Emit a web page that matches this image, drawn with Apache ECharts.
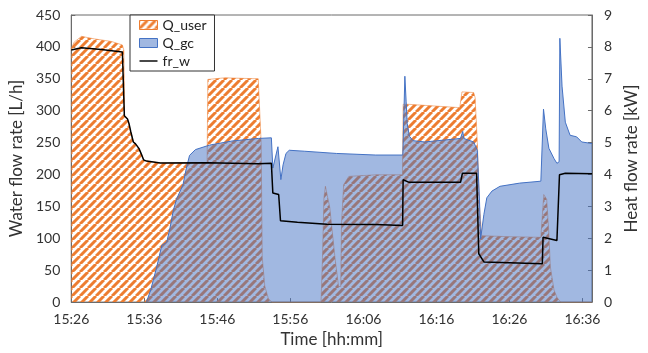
<!DOCTYPE html>
<html>
<head>
<meta charset="utf-8">
<script src="https://cdn.jsdelivr.net/npm/echarts@6/dist/echarts.min.js"></script>
<style>
  html, body { margin: 0; padding: 0; background: #fff; }
  #chart { width: 648px; height: 353px; }
</style>
</head>
<body>
<div id="chart"></div>
<script>
// time in minutes after 15:26
const timeLabels = ['15:26', '15:36', '15:46', '15:56', '16:06', '16:16', '16:26', '16:36'];

// Q_user heat flow [kW]
const qUserT = [0, 0.4, 1.4, 3.2, 5.5, 7.0, 7.2, 7.3, 7.7, 8.15, 8.5, 8.8, 9.26, 9.5, 9.9, 10.3, 12.2, 18.6,
  18.7, 21, 25.6, 25.85, 26.0, 26.15, 26.5, 27.0, 27.5, 34.2, 34.4, 34.6, 34.8, 35.4, 36.1, 36.6, 36.9, 37.0,
  37.3, 38.0, 41.7, 45.35, 45.45, 46.2, 52.9, 53.2, 53.5, 55.1, 55.3, 55.6, 55.9, 56.2, 60, 64.3, 64.7, 65.1,
  65.4, 65.6, 66.1, 66.5, 67, 71.3];
const qUserV = [7.95, 8.15, 8.33, 8.25, 8.17, 8.06, 7.9, 5.84, 5.74, 5.34, 5.02, 4.96, 4.82, 4.76, 4.46, 4.42, 4.36, 4.37,
  6.98, 7.03, 7.0, 6.95, 5.0, 1.4, 0.5, 0.1, 0, 0, 1.4, 3.27, 3.63, 2.96, 1.41, 0.49, 0.49, 2.44,
  3.68, 3.94, 3.99, 3.99, 6.2, 6.2, 6.1, 6.1, 6.59, 6.57, 6.41, 5.0, 3.0, 2.08, 2.05, 2.03, 3.37, 3.22,
  2.13, 1.1, 0.38, 0.15, 0, 0];

// Q_gc heat flow [kW]
const qGcT = [10.3, 10.9, 11.7, 12.4, 13.07, 13.5, 13.96, 14.4, 15.3, 15.76, 16.2, 17, 18.9, 22, 25.6, 27.4, 27.6,
  27.8, 28.3, 28.7, 29.0, 29.4, 29.85, 31.9, 36.3, 41.7, 45.4, 45.55, 45.68, 45.85, 46.0, 46.3, 46.8, 48.4,
  53.3, 53.6, 53.75, 55.1, 55.6, 55.9, 56.05, 56.5, 56.9, 57.6, 58.7, 61.4, 64.3, 64.66, 64.97, 65.4, 66.1,
  66.5, 66.8, 66.9, 67.2, 67.65, 68.3, 69.2, 69.9, 71.3];
const qGcV = [0, 0.4, 1.1, 1.78, 1.88, 2.3, 2.86, 3.22, 3.68, 4.2, 4.6, 4.78, 4.92, 5.05, 5.13, 5.15, 4.2,
  4.15, 4.87, 3.84, 4.3, 4.66, 4.76, 4.73, 4.66, 4.61, 4.61, 4.65, 7.08, 6.3, 5.6, 5.2, 5.06, 5.02,
  5.13, 5.35, 5.13, 5.02, 4.76, 3.17, 1.98, 2.75, 3.27, 3.48, 3.63, 3.73, 3.79, 6.05, 5.43, 4.82, 4.5,
  4.35, 4.4, 8.27, 6.77, 5.64, 5.23, 5.18, 5.02, 4.97];

// fr_w water flow [L/h]
const frT = [0, 0.2, 1.4, 4.1, 7.0, 7.17, 7.27, 7.7, 7.9, 8.15, 8.5, 8.8, 9.26, 9.5, 9.6, 9.9, 10.3, 12.2, 18.6,
  25.6, 27.4, 27.6, 28.4, 28.65, 30.97, 35, 41.7, 45.37, 45.44, 45.7, 46.2, 53.3, 53.56, 55.5, 55.8, 56.5,
  64.5, 64.6, 66.5, 66.85, 67.65, 71.3];
const frV = [395, 398, 398.5, 396, 392, 391, 292, 287, 280, 267, 251, 248, 241, 238, 232, 223, 221, 218, 218.5,
  217, 217.6, 171, 168.6, 127.4, 125, 122, 121.7, 120, 191.7, 194, 188, 187.7, 202, 202, 75.8, 63,
  60.3, 101.6, 96.5, 199.5, 202, 201];

const zip = (t, v) => t.map((x, i) => [x, v[i]]);

function makeHatch() {
  const P = 8;
  const c = document.createElement('canvas');
  c.width = P; c.height = P;
  const ctx = c.getContext('2d');
  ctx.strokeStyle = '#ED7D31';
  ctx.lineWidth = 3;
  ctx.beginPath();
  for (const k of [-1, 0, 1]) {
    ctx.moveTo(k * P, P);
    ctx.lineTo(k * P + P, 0);
  }
  ctx.stroke();
  return c;
}
const hatch = { image: makeHatch(), repeat: 'repeat' };

const FONT = 'Lato';
const axisGray = '#6b6b6b';
const labelColor = '#333';

const chart = echarts.init(document.getElementById('chart'));
chart.setOption({
  animation: false,
  textStyle: { fontFamily: FONT },
  grid: { left: 69, right: 49, top: 15, bottom: 47, show: true, borderColor: axisGray, borderWidth: 1 },
  legend: {
    orient: 'vertical',
    left: 130,
    top: 15,
    padding: [3, 8, 3, 9],
    itemGap: 4,
    itemWidth: 18,
    itemHeight: 9,
    backgroundColor: '#fff',
    borderColor: '#333',
    borderWidth: 1,
    borderRadius: 0,
    textStyle: { fontFamily: FONT, fontSize: 14, color: '#222' },
    data: [
      { name: 'Q_user', icon: 'rect', itemStyle: { color: hatch, borderColor: '#ED7D31', borderWidth: 1 } },
      { name: 'Q_gc', icon: 'rect', itemStyle: { color: 'rgba(68,114,196,0.5)', borderColor: '#4472C4', borderWidth: 1 } },
      { name: 'fr_w', icon: 'path://M0,0H20V1.6H0Z', itemStyle: { color: '#000', borderWidth: 0 } }
    ]
  },
  xAxis: {
    type: 'value',
    min: 0,
    max: 71.3,
    interval: 10,
    name: 'Time [hh:mm]',
    nameLocation: 'middle',
    nameGap: 26,
    nameTextStyle: { fontFamily: FONT, fontSize: 17, color: labelColor },
    axisLine: { lineStyle: { color: axisGray } },
    axisTick: { inside: true, length: 4, lineStyle: { color: axisGray } },
    axisLabel: {
      margin: 10, fontSize: 14, color: labelColor, showMaxLabel: false,
      formatter: v => (Math.abs(v % 10) < 1e-6 ? timeLabels[Math.round(v / 10)] : '')
    },
    splitLine: { show: false }
  },
  yAxis: [
    {
      type: 'value',
      min: 0, max: 450, interval: 50,
      name: 'Water flow rate [L/h]',
      nameLocation: 'middle',
      nameGap: 43,
      nameTextStyle: { fontFamily: FONT, fontSize: 17, color: labelColor },
      axisLine: { show: true, lineStyle: { color: axisGray } },
      axisTick: { show: true, inside: true, length: 4, lineStyle: { color: axisGray } },
      axisLabel: { margin: 11, fontSize: 14, color: labelColor },
      splitLine: { show: false }
    },
    {
      type: 'value',
      min: 0, max: 9, interval: 1,
      position: 'right',
      name: 'Heat flow rate [kW]',
      nameLocation: 'middle',
      nameGap: 30,
      nameTextStyle: { fontFamily: FONT, fontSize: 17, color: labelColor },
      axisLine: { show: true, lineStyle: { color: axisGray } },
      axisTick: { show: true, inside: true, length: 4, lineStyle: { color: axisGray } },
      axisLabel: { margin: 12, fontSize: 14, color: labelColor },
      splitLine: { show: false }
    }
  ],
  series: [
    {
      name: 'Q_user',
      type: 'line',
      yAxisIndex: 1,
      data: zip(qUserT, qUserV),
      symbol: 'none',
      color: '#ED7D31',
      lineStyle: { color: 'rgba(237,125,49,0.55)', width: 1 },
      areaStyle: { color: hatch, opacity: 1 },
      z: 1
    },
    {
      name: 'Q_gc',
      type: 'line',
      yAxisIndex: 1,
      data: zip(qGcT, qGcV),
      symbol: 'none',
      color: '#4472C4',
      lineStyle: { color: '#4472C4', width: 1 },
      areaStyle: { color: 'rgba(68,114,196,0.5)', opacity: 1 },
      z: 2
    },
    {
      name: 'fr_w',
      type: 'line',
      yAxisIndex: 0,
      data: zip(frT, frV),
      symbol: 'none',
      color: '#000',
      lineStyle: { color: '#000', width: 1.5 },
      z: 3
    }
  ]
});
</script>
</body>
</html>
